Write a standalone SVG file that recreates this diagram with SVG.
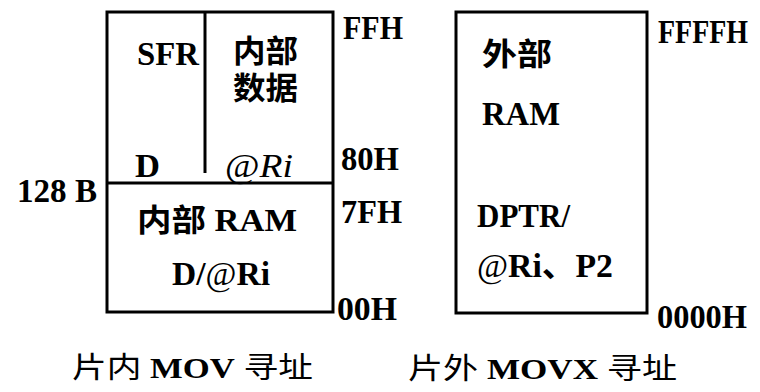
<svg xmlns="http://www.w3.org/2000/svg" width="760" height="392" viewBox="0 0 760 392">
  <style>
    .box { fill: none; stroke: #000; stroke-width: 3; stroke-linejoin: miter; }
    .ln { stroke: #000; stroke-width: 3; fill: none; }
    text { font-family: "Liberation Serif", "Noto Sans CJK SC", serif; font-weight: bold; fill: #000; }
    .lbl { font-size: 33px; }
    .tall { font-size: 29px; }
    .cjk { font-size: 31px; }
    .cap { font-size: 29px; font-weight: normal; }
    .b { font-weight: bold; }
    .at { font-weight: normal; }
  </style>
  <rect width="760" height="392" fill="#fff"/>

  <!-- on-chip data memory -->
  <g id="internal-memory">
    <rect class="box" x="107" y="12" width="226" height="300"/>
    <line class="ln" x1="205" y1="12" x2="205" y2="173"/>
    <line class="ln" x1="107" y1="183" x2="333" y2="183"/>
    <text class="lbl" x="137" y="65" textLength="62" lengthAdjust="spacingAndGlyphs">SFR</text>
    <text class="cjk" x="233" y="62" textLength="65" lengthAdjust="spacingAndGlyphs">内部</text>
    <text class="cjk" x="233" y="99" textLength="65" lengthAdjust="spacingAndGlyphs">数据</text>
    <text class="lbl" x="135" y="177" textLength="25" lengthAdjust="spacingAndGlyphs">D</text>
    <text class="lbl" x="225" y="177" textLength="68" lengthAdjust="spacingAndGlyphs"><tspan class="at">@</tspan><tspan font-style="italic" font-weight="normal">Ri</tspan></text>
    <text class="cjk" x="137" y="231" textLength="160" lengthAdjust="spacingAndGlyphs">内部 RAM</text>
    <text class="lbl" x="172" y="285" textLength="98" lengthAdjust="spacingAndGlyphs">D/<tspan class="at">@</tspan>Ri</text>
  </g>

  <!-- address labels, on-chip -->
  <g id="internal-addresses">
    <text class="lbl" x="343" y="39" textLength="60" lengthAdjust="spacingAndGlyphs">FFH</text>
    <text class="lbl" x="341" y="170" textLength="58" lengthAdjust="spacingAndGlyphs">80H</text>
    <text class="lbl" x="341" y="223" textLength="61" lengthAdjust="spacingAndGlyphs">7FH</text>
    <text class="lbl" x="337" y="320" textLength="60" lengthAdjust="spacingAndGlyphs">00H</text>
    <text class="lbl" x="17" y="202" textLength="80" lengthAdjust="spacingAndGlyphs">128 B</text>
  </g>

  <!-- off-chip data memory -->
  <g id="external-memory">
    <rect class="box" x="456" y="12" width="191" height="301"/>
    <text class="cjk" x="482" y="65" textLength="70" lengthAdjust="spacingAndGlyphs">外部</text>
    <text class="lbl" x="482" y="125" textLength="78" lengthAdjust="spacingAndGlyphs">RAM</text>
    <text class="lbl" x="477" y="227" textLength="93" lengthAdjust="spacingAndGlyphs">DPTR/</text>
    <text class="lbl" x="477" y="277" textLength="136" lengthAdjust="spacingAndGlyphs"><tspan class="at">@</tspan>Ri、P2</text>
  </g>

  <!-- address labels, off-chip (narrow glyphs stretched vertically) -->
  <g id="external-addresses">
    <text class="tall" transform="translate(658,43) scale(1,1.13)" textLength="90" lengthAdjust="spacingAndGlyphs">FFFFH</text>
    <text class="tall" transform="translate(657,328) scale(1,1.13)" textLength="90" lengthAdjust="spacingAndGlyphs">0000H</text>
  </g>

  <!-- captions -->
  <g id="captions">
    <text class="cap" x="72" y="378" textLength="241" lengthAdjust="spacingAndGlyphs">片内 <tspan class="b">MOV</tspan> 寻址</text>
    <text class="cap" x="408" y="379" textLength="269" lengthAdjust="spacingAndGlyphs">片外 <tspan class="b">MOVX</tspan> 寻址</text>
  </g>

  <g id="connectors"></g>
</svg>
